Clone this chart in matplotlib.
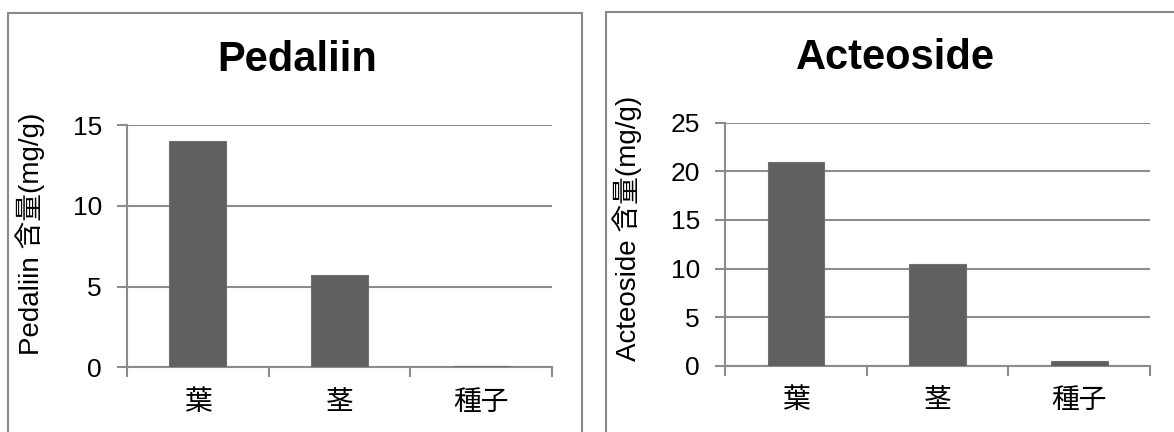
import matplotlib
matplotlib.use("Agg")
import matplotlib.pyplot as plt
from matplotlib.patches import Rectangle

plt.rcParams['font.family'] = ['Liberation Sans', 'Noto Sans CJK JP']

# 含量データ (mg/g)
parts = ["葉", "茎", "種子"]
pedaliin = [14.0, 5.7, 0.1]
acteoside = [21.0, 10.5, 0.5]

bar_color = "#606060"
grid_color = "#8c8c8c"

fig = plt.figure(figsize=(11.74, 4.32), dpi=100)

# パネルの枠線
W, H = 1174, 432
fig.patches.append(Rectangle((8 / W, -0.1), (582 - 8) / W, 1.1 - 13 / H,
                             transform=fig.transFigure, fill=False,
                             edgecolor="#8a8a8a", linewidth=1.5))
fig.patches.append(Rectangle((606 / W, -0.1), 0.5, 1.1 - 11.5 / H,
                             transform=fig.transFigure, fill=False,
                             edgecolor="#8a8a8a", linewidth=1.5))


def draw_panel(rect, values, ymax, title, ylabel, title_xy, ylabel_xy):
    ax = fig.add_axes(rect)
    x = range(len(parts))
    ax.bar(x, values, width=0.4, color=bar_color, edgecolor="#707070",
           linewidth=0.8, zorder=3)
    ax.set_xlim(-0.5, len(parts) - 0.5)
    ax.set_ylim(0, ymax)
    ax.set_yticks(range(0, ymax + 1, 5))
    ax.set_xticks([-0.5, 0.5, 1.5, 2.5])
    ax.set_xticklabels([])
    ax.set_xticks(list(x), minor=True)
    ax.set_xticklabels(parts, minor=True, fontsize=20)
    ax.tick_params(axis="x", which="minor", length=0, pad=16)
    ax.tick_params(axis="x", which="major", length=7, width=1.5,
                   color=grid_color, direction="out")
    ax.tick_params(axis="y", length=7, width=1.5, color=grid_color,
                   direction="out", labelsize=19, pad=11)
    ax.grid(axis="y", color=grid_color, linewidth=1.5, zorder=0)
    for side in ("top", "right"):
        ax.spines[side].set_visible(False)
    for side in ("left", "bottom"):
        ax.spines[side].set_color(grid_color)
        ax.spines[side].set_linewidth(1.5)
        ax.spines[side].set_zorder(2)
    ax.set_ylabel(ylabel, fontsize=20)
    ax.yaxis.set_label_coords(ylabel_xy[0] / W, 1 - ylabel_xy[1] / H,
                              transform=fig.transFigure)
    fig.text(title_xy[0] / W, 1 - title_xy[1] / H, title, fontsize=30,
             fontweight="bold", ha="center", va="center")
    return ax


draw_panel([127 / W, 1 - 367.3 / H, (552 - 127) / W, (367.3 - 125) / H],
           pedaliin, 15, "Pedaliin", "Pedaliin 含量(mg/g)", (297, 60), (45, 234))
draw_panel([725 / W, 1 - 365.7 / H, (1150 - 725) / W, (365.7 - 122.7) / H],
           acteoside, 25, "Acteoside", "Acteoside 含量(mg/g)", (895, 58), (642, 228))

fig.savefig("out.png", dpi=100)
